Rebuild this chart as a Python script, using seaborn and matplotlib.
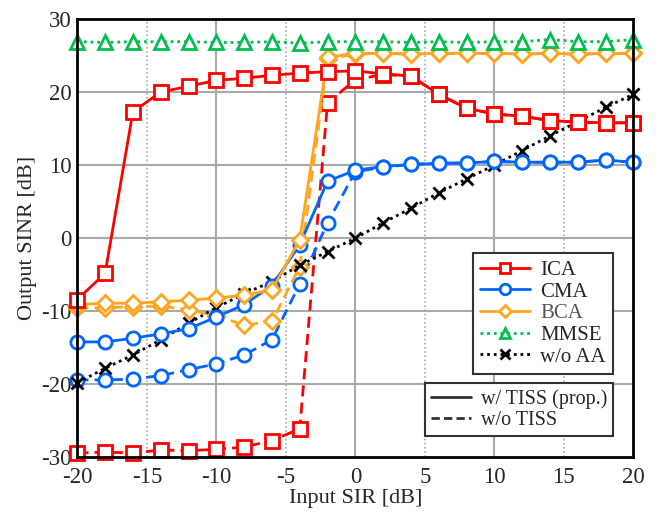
"""
Output SINR versus input SIR for the different array algorithms,
with and without TISS. Saved as out.png.
"""

import numpy as np
import pandas as pd
import matplotlib.pyplot as plt
import seaborn as sns
from matplotlib.lines import Line2D
from matplotlib.ticker import MultipleLocator

# Input SIR [dB]
sir = list(range(-20, 21, 2))

# Output SINR [dB]
ica_tiss = [-8.4, -4.8, 17.3, 20.0, 20.8, 21.6, 21.9, 22.3, 22.6, 22.8, 22.9,
            22.5, 22.2, 19.7, 17.8, 17.0, 16.7, 16.1, 15.9, 15.8, 15.8]
ica_none = [-29.4, -29.3, -29.4, -29.0, -29.1, -28.9, -28.6, -27.7, -26.1, 18.5, 21.7,
            22.4, 22.2, 19.7, 17.8, 17.0, 16.7, 16.1, 15.9, 15.8, 15.8]
cma_tiss = [-14.2, -14.2, -13.7, -13.1, -12.4, -10.8, -9.1, -6.5, -0.9, 7.8, 9.3,
            9.8, 10.1, 10.25, 10.3, 10.5, 10.4, 10.4, 10.4, 10.7, 10.4]
cma_none = [-19.4, -19.4, -19.3, -18.8, -18.0, -17.2, -16.0, -13.9, -6.3, 2.1, 9.1,
            9.7, 10.1, 10.25, 10.3, 10.5, 10.4, 10.4, 10.4, 10.7, 10.4]
bca_tiss = [-9.1, -8.9, -8.9, -8.7, -8.5, -8.2, -7.8, -7.1, -0.2, 24.8, 25.3,
            25.3, 25.2, 25.3, 25.3, 25.3, 25.2, 25.3, 25.2, 25.3, 25.3]
bca_none = [-9.6, -9.5, -9.4, -9.3, -9.8, -10.6, -11.9, -11.4, -3.9, 24.5, 25.2,
            25.3, 25.2, 25.3, 25.3, 25.3, 25.2, 25.3, 25.2, 25.3, 25.3]
mmse = [26.9, 26.8, 26.9, 26.9, 26.9, 26.8, 26.8, 26.9, 26.7, 26.9, 26.9,
        26.9, 26.8, 26.9, 26.8, 26.9, 26.9, 27.2, 26.9, 26.9, 27.2]
no_aa = [-19.8, -17.8, -16.0, -13.9, -11.65, -9.5, -7.6, -5.95, -3.7, -1.85, 0.0,
         2.1, 4.1, 6.2, 8.1, 10.0, 12.0, 14.0, 15.95, 17.9, 19.7]

labels = ['ICA', 'CMA', 'BCA', 'MMSE', 'w/o AA']
colors = {'ICA': '#ff0000', 'CMA': '#0066ff', 'BCA': '#ffa51f',
          'MMSE': '#00bf4f', 'w/o AA': '#000000'}
markers = {'ICA': 's', 'CMA': 'o', 'BCA': 'D', 'MMSE': '^', 'w/o AA': 'x'}
msizes = {'ICA': 9.5, 'CMA': 9.5, 'BCA': 8, 'MMSE': 9.5, 'w/o AA': 8.5}

dashed = (0, (4, 2.2))
dotted = (0, (1, 1.4))

# (label, values, line style)
series = [
    ('ICA', ica_none, dashed),
    ('CMA', cma_none, dashed),
    ('BCA', bca_none, dashed),
    ('w/o AA', no_aa, dotted),
    ('CMA', cma_tiss, '-'),
    ('BCA', bca_tiss, '-'),
    ('ICA', ica_tiss, '-'),
    ('MMSE', mmse, dotted),
]

sns.set_style('white')
plt.rcParams['font.family'] = ['Liberation Serif', 'DejaVu Serif']

fig = plt.figure(figsize=(6.58, 5.15), dpi=100)
ax = fig.add_axes([0.1175, 0.112, 0.845, 0.851])

for name, vals, ls in series:
    df = pd.DataFrame({'sir': sir, 'sinr': vals})
    c = colors[name]
    sns.lineplot(data=df, x='sir', y='sinr', ax=ax, color=c, linestyle=ls,
                 linewidth=2, marker=markers[name], markersize=msizes[name],
                 markerfacecolor='white' if name != 'w/o AA' else c,
                 markeredgecolor=c, markeredgewidth=2, clip_on=False,
                 zorder=3)

ax.set_xlim(-20, 20)
ax.set_ylim(-30, 30)

# solid grid at every 10, dotted at the odd fives on x
for v in [-10, 0, 10]:
    ax.axvline(v, color='#aaaaaa', lw=1.5, zorder=1)
for v in [-15, -5, 5, 15]:
    ax.axvline(v, color='#aaaaaa', lw=1.2, ls=(0, (1, 1.5)), zorder=1)
for v in [-20, -10, 0, 10, 20]:
    ax.axhline(v, color='#aaaaaa', lw=1.5, zorder=1)

ax.set_xticks(np.arange(-20, 21, 5))
ax.set_xticklabels([str(v) for v in range(-20, 21, 5)])
ax.set_yticks(np.arange(-30, 31, 10))
ax.set_yticklabels([str(v) for v in range(-30, 31, 10)])
ax.tick_params(axis='both', which='both', length=0, labelsize=16.5)
ax.tick_params(axis='x', pad=7)
ax.tick_params(axis='y', pad=4)
ax.set_xlabel('Input SIR [dB]', fontsize=16, labelpad=1)
ax.set_ylabel('Output SINR [dB]', fontsize=16, labelpad=3)

for sp in ax.spines.values():
    sp.set_linewidth(2)
    sp.set_color('black')
    sp.set_zorder(5)

# legend of the algorithms
handles = []
for name in labels:
    ls = dotted if name in ('MMSE', 'w/o AA') else '-'
    c = colors[name]
    handles.append(Line2D([], [], color=c, lw=2, ls=ls, marker=markers[name],
                          markersize=msizes[name] * 0.8,
                          markerfacecolor='white' if name != 'w/o AA' else c,
                          markeredgecolor=c, markeredgewidth=2))
leg1 = ax.legend(handles, labels, loc='lower right',
                 bbox_to_anchor=(0.964, 0.19), borderaxespad=0,
                 fontsize=15, handlelength=2.4, handletextpad=0.5,
                 labelspacing=0.1, borderpad=0.35, fancybox=False,
                 framealpha=1, edgecolor='#333333')
leg1.get_frame().set_linewidth(1.5)
leg1.get_texts()[2].set_color('#555555')
leg1.set_zorder(6)
ax.add_artist(leg1)

# legend of the line styles
style_handles = [Line2D([], [], color='#333333', lw=2, ls='-'),
                 Line2D([], [], color='#333333', lw=2, ls=(0, (3, 1.5)))]
leg2 = ax.legend(style_handles, ['w/ TISS (prop.)', 'w/o TISS'],
                 loc='lower right', bbox_to_anchor=(0.964, 0.0486),
                 borderaxespad=0, fontsize=14.5, handlelength=2.0,
                 handletextpad=0.5, labelspacing=0.1, borderpad=0.3,
                 fancybox=False, framealpha=1, edgecolor='#333333')
leg2.get_frame().set_linewidth(1.5)
leg2.set_zorder(6)

fig.savefig('out.png', dpi=100)
